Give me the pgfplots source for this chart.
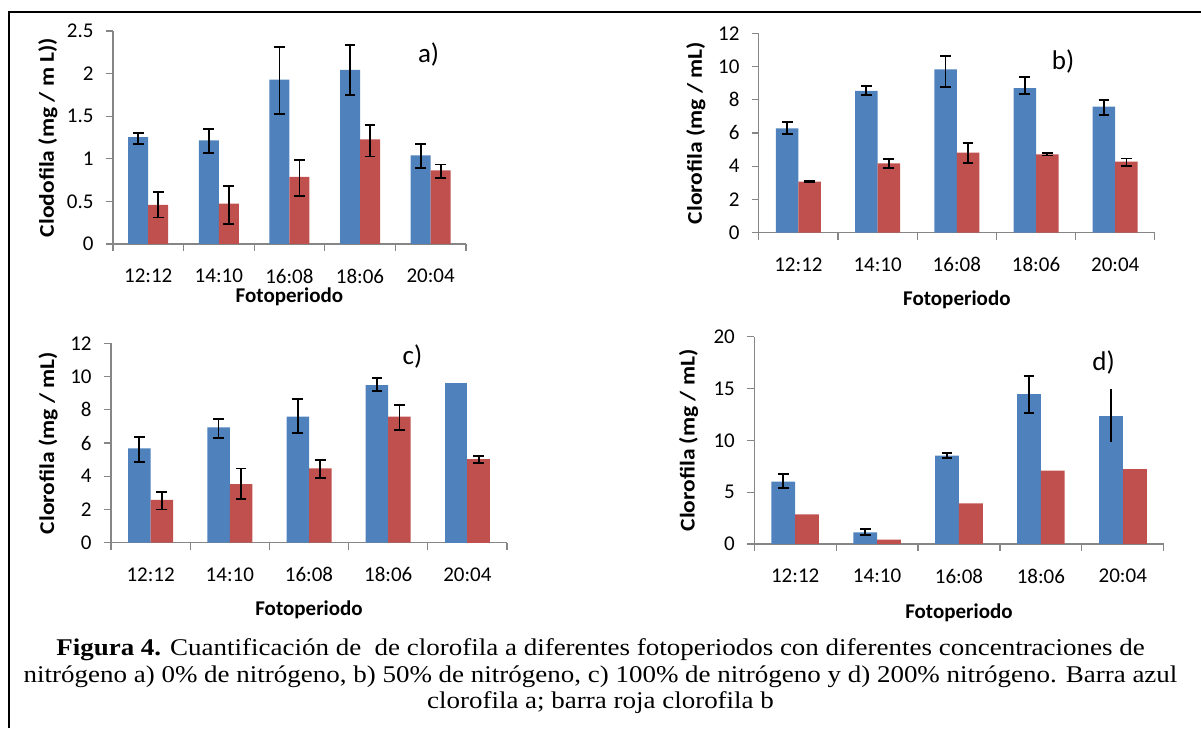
\documentclass[border=0pt]{standalone}
\usepackage{fontspec}
\setmainfont{Liberation Serif}
\newfontfamily\calibri{Carlito}
\usepackage{graphicx}
\usepackage{pgfplots}
\usepackage{pgfplotstable}
\pgfplotsset{compat=1.18}
\definecolor{xlblue}{HTML}{4F81BD}
\definecolor{xlred}{HTML}{C0504D}
\definecolor{axgray}{HTML}{868686}

% panel a) 0% N
\pgfplotstableread{
x b bp bm r rp rm
0 1.254 0.05 0.08 0.46 0.15 0.15
1 1.215 0.13 0.15 0.475 0.21 0.24
2 1.93 0.38 0.40 0.787 0.20 0.22
3 2.044 0.29 0.30 1.227 0.17 0.20
4 1.04 0.13 0.15 0.864 0.07 0.085
}\tabA
% panel b) 50% N
\pgfplotstableread{
x b bp bm r rp rm
0 6.28 0.40 0.36 3.07 0.03 0.03
1 8.53 0.30 0.24 4.17 0.28 0.30
2 9.83 0.81 1.04 4.82 0.60 0.61
3 8.70 0.65 0.35 4.72 0.08 0.08
4 7.59 0.40 0.51 4.27 0.20 0.26
}\tabB
% panel c) 100% N
\pgfplotstableread{
x b bp bm r rp rm
0 5.68 0.70 0.80 2.57 0.50 0.57
1 6.94 0.50 0.66 3.53 0.94 0.90
2 7.59 1.04 1.01 4.47 0.51 0.56
3 9.49 0.40 0.35 7.59 0.70 0.81
}\tabC
% panel d) 200% N
\pgfplotstableread{
x b bp bm r
0 6.01 0.71 0.58 2.86
1 1.13 0.29 0.26 0.42
2 8.52 0.28 0.26 3.92
3 14.47 1.73 1.80 7.07
}\tabD

\newcommand{\ylab}[1]{\scalebox{1.12}[1]{\bfseries #1}}

\pgfplotsset{
  panel/.style={
    scale only axis, anchor=south west,
    font=\calibri\fontsize{10.5bp}{12bp}\selectfont,
    /pgf/number format/assume math mode=true,
    axis x line*=bottom, axis y line*=left,
    axis line style={-, draw=axgray, line width=0.6bp},
    ybar, ymin=0,
    xmin=-0.5, xmax=4.5,
    xtick={0,...,4},
    xticklabels={12:12,14:10,16:08,18:06,20:04},
    major x tick style={draw=none},
    minor xtick={-0.5,0.5,1.5,2.5,3.5,4.5},
    tick align=outside,
    major tick length=3.5bp, minor tick length=3.5bp,
    tick style={draw=axgray, line width=0.6bp},
    xticklabel style={anchor=center, yshift=-12.5bp},
    yticklabel style={anchor=east, inner sep=0pt, xshift=-6bp},
    xlabel={\bfseries Fotoperiodo},
    clip=false,
    error bars/y dir=both, error bars/y explicit,
    error bars/error bar style={draw=black, line width=0.9bp},
    error bars/error mark options={draw=black, line width=0.9bp, mark size=2.7bp, rotate=90},
  },
  bl/.style={fill=xlblue, draw=none, bar shift=-#1},
  rd/.style={fill=xlred, draw=none, bar shift=#1},
}

\begin{document}
\begin{tikzpicture}[x=0.5bp,y=0.5bp]
\path[use as bounding box] (0,0) rectangle (1201,728);
\draw[line width=1bp] (9,0) -- (9,716.3) -- (1201,716.3);

% ---------- a) ----------
\begin{axis}[panel, at={(56.45bp,242bp)}, width=176.5bp, height=106.5bp,
  ymax=2.5, ytick={0,0.5,...,2.5},
  bar width=10bp,
  ylabel={\ylab{Clodofila (mg / m L))}},
  ylabel style={at={(axis description cs:-0.184,0.5)}, anchor=center},
  xlabel style={at={(axis description cs:0.5,0)}, anchor=center, yshift=-26.5bp}]
\addplot[bl=5bp] table[x=x,y=b,y error plus=bp,y error minus=bm]{\tabA};
\addplot[rd=5bp] table[x=x,y=r,y error plus=rp,y error minus=rm]{\tabA};
\end{axis}

% ---------- b) ----------
\begin{axis}[panel, at={(379.4bp,247.65bp)}, width=198bp, height=99.7bp,
  ymax=12, ytick={0,2,...,12},
  bar width=11.25bp,
  ylabel={\ylab{Clorofila (mg / mL)}},
  ylabel style={at={(axis description cs:-0.159,0.5)}, anchor=center},
  xlabel style={at={(axis description cs:0.5,0)}, anchor=center, yshift=-33.7bp}]
\addplot[bl=5.625bp] table[x=x,y=b,y error plus=bp,y error minus=bm]{\tabB};
\addplot[rd=5.625bp] table[x=x,y=r,y error plus=rp,y error minus=rm]{\tabB};
\end{axis}

% ---------- c) ----------
\begin{axis}[panel, at={(55.5bp,92.65bp)}, width=198bp, height=99.7bp,
  ymax=12, ytick={0,2,...,12},
  bar width=11.25bp,
  ylabel={\ylab{Clorofila (mg / mL)}},
  ylabel style={at={(axis description cs:-0.159,0.5)}, anchor=center},
  xlabel style={at={(axis description cs:0.5,0)}, anchor=center, yshift=-33.7bp}]
\addplot[bl=5.625bp] table[x=x,y=b,y error plus=bp,y error minus=bm]{\tabC};
\addplot[bl=5.625bp, forget plot, error bars/y dir=none] coordinates {(4,9.63)};
\addplot[rd=5.625bp] table[x=x,y=r,y error plus=rp,y error minus=rm]{\tabC};
\addplot[rd=5.625bp, forget plot] coordinates {(4,5.02) +- (0,0.2)};
\end{axis}

% ---------- d) ----------
\begin{axis}[panel, at={(377.1bp,92bp)}, width=204.75bp, height=103.65bp,
  ymax=20, ytick={0,5,...,20},
  bar width=11.9bp,
  ylabel={\ylab{Clorofila (mg / mL)}},
  ylabel style={at={(axis description cs:-0.16,0.5)}, anchor=center},
  xlabel style={at={(axis description cs:0.5,0)}, anchor=center, yshift=-34.5bp}]
\addplot[bl=5.95bp] table[x=x,y=b,y error plus=bp,y error minus=bm]{\tabD};
\addplot[bl=5.95bp, forget plot, error bars/error mark=none] coordinates {(4,12.38) +- (0,2.55)};
\addplot[rd=5.95bp, error bars/y dir=none] table[x=x,y=r]{\tabD};
\addplot[rd=5.95bp, forget plot, error bars/y dir=none] coordinates {(4,7.27)};
\end{axis}

% panel letters
\begin{scope}[every node/.style={font=\calibri\fontsize{13.5bp}{15bp}\selectfont}]
\node at (428.6,673) {a)};
\node at (1063,666) {b)};
\node at (412.5,371.3) {c)};
\node at (1103.6,365.3) {d)};
\end{scope}

% caption
\node[inner sep=0pt] at (600.5,51)
{\fontsize{12bp}{13.3bp}\selectfont\scalebox{1.124}[1]{\begin{tabular}{@{}c@{}}
\textbf{Figura 4.} Cuantificación de\ \ de clorofila a diferentes fotoperiodos con diferentes concentraciones de\\
nitrógeno a) 0\% de nitrógeno, b) 50\% de nitrógeno, c) 100\% de nitrógeno y d) 200\% nitrógeno. Barra azul\\
clorofila a; barra roja clorofila b
\end{tabular}}};
\end{tikzpicture}
\end{document}
